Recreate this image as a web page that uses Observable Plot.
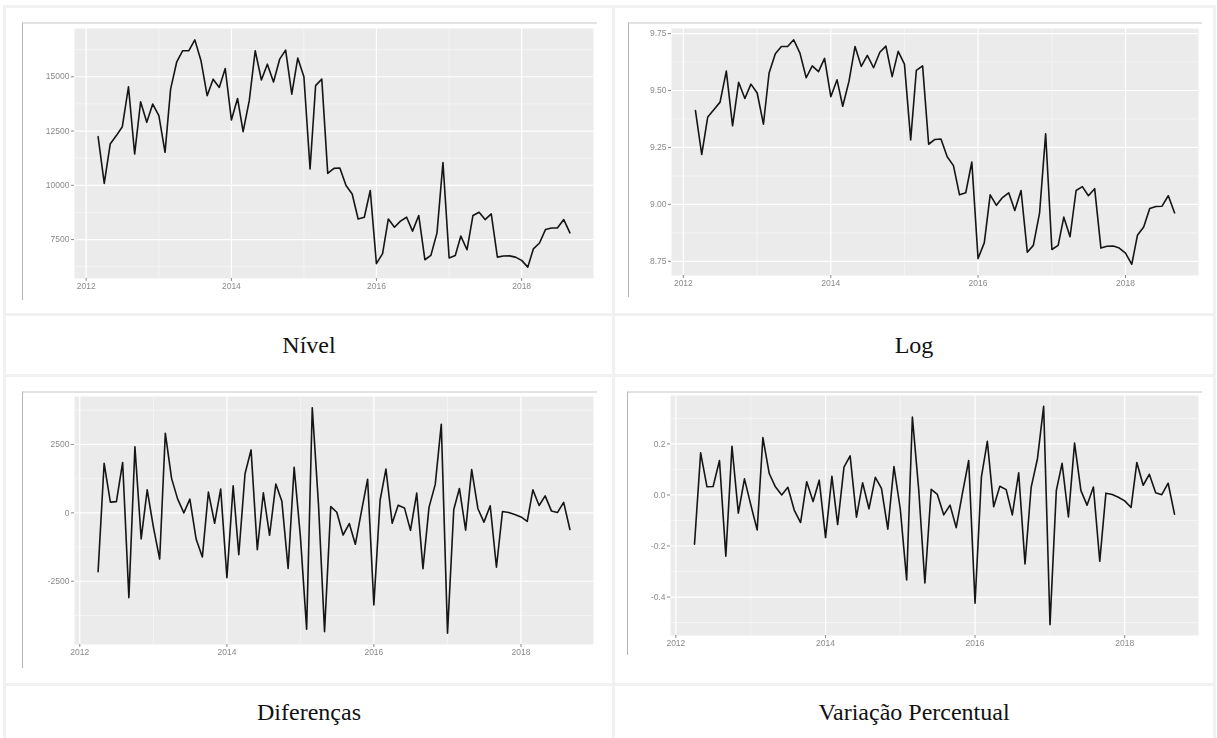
<!DOCTYPE html>
<html>
<head>
<meta charset="utf-8">
<script src="https://cdn.jsdelivr.net/npm/d3@7"></script>
<script src="https://cdn.jsdelivr.net/npm/@observablehq/plot@0.6"></script>
<style>
  html, body { margin: 0; padding: 0; background: #fff; }
  body { width: 1217px; height: 738px; overflow: hidden; position: relative; }
  .rule { position: absolute; background: #f1f1f1; }
  .img { position: absolute; background: #fff; box-sizing: border-box;
         border-top: 2px solid #e2e2e2; border-left: 1px solid #b3b3b3; }
  .img svg { display: block; filter: blur(0.35px); }
  .cap { position: absolute; text-align: center; color: #111;
         font-family: "Liberation Serif", "Times New Roman", serif; font-size: 24px; }
</style>
</head>
<body>
<script>
// ---- data (monthly, Mar 2012 – Sep 2018) ----
const months = [
  "2012-03","2012-04","2012-05","2012-06","2012-07","2012-08","2012-09","2012-10","2012-11","2012-12",
  "2013-01","2013-02","2013-03","2013-04","2013-05","2013-06","2013-07","2013-08","2013-09","2013-10","2013-11","2013-12",
  "2014-01","2014-02","2014-03","2014-04","2014-05","2014-06","2014-07","2014-08","2014-09","2014-10","2014-11","2014-12",
  "2015-01","2015-02","2015-03","2015-04","2015-05","2015-06","2015-07","2015-08","2015-09","2015-10","2015-11","2015-12",
  "2016-01","2016-02","2016-03","2016-04","2016-05","2016-06","2016-07","2016-08","2016-09","2016-10","2016-11","2016-12",
  "2017-01","2017-02","2017-03","2017-04","2017-05","2017-06","2017-07","2017-08","2017-09","2017-10","2017-11","2017-12",
  "2018-01","2018-02","2018-03","2018-04","2018-05","2018-06","2018-07","2018-08","2018-09"
];

const nivel = [
  12240, 10090, 11900, 12290, 12700, 14540, 11440, 13850, 12900, 13740,
  13210, 11520, 14430, 15690, 16200, 16200, 16700, 15740, 14130, 14890,
  14510, 15380, 13010, 14000, 12470, 13900, 16200, 14850, 15580, 14760,
  15810, 16230, 14200, 15860, 15000, 10750, 14590, 14890, 10550, 10780,
  10800, 9990, 9600, 8450, 8530, 9760, 6390, 6850, 8450, 8070,
  8350, 8530, 7890, 8610, 6570, 6770, 7810, 11050, 6650, 6770,
  7660, 7030, 8610, 8760, 8420, 8680, 6690, 6740, 6750, 6690,
  6540, 6230, 7070, 7340, 7960, 8030, 8040, 8420, 7810
];

const logNivel = [
  9.412, 9.219, 9.384, 9.417, 9.449, 9.585, 9.345, 9.536, 9.465, 9.528,
  9.489, 9.352, 9.577, 9.661, 9.693, 9.693, 9.723, 9.664, 9.556, 9.608,
  9.583, 9.641, 9.473, 9.547, 9.431, 9.540, 9.693, 9.606, 9.654, 9.600,
  9.668, 9.695, 9.561, 9.672, 9.616, 9.283, 9.588, 9.608, 9.264, 9.285,
  9.287, 9.209, 9.170, 9.042, 9.051, 9.186, 8.762, 8.832, 9.042, 8.996,
  9.030, 9.051, 8.973, 9.061, 8.790, 8.820, 8.963, 9.310, 8.802, 8.820,
  8.944, 8.858, 9.061, 9.078, 9.038, 9.069, 8.808, 8.816, 8.817, 8.808,
  8.786, 8.737, 8.864, 8.901, 8.982, 8.991, 8.992, 9.038, 8.963
];

const diferencas = [
  -2150, 1810, 390, 410, 1840, -3100, 2410, -950, 840, -530,
  -1690, 2910, 1260, 510, 0, 500, -960, -1610, 760, -380,
  870, -2370, 990, -1530, 1430, 2300, -1350, 730, -820, 1050,
  420, -2030, 1660, -860, -4250, 3840, 300, -4340, 230, 20,
  -810, -390, -1150, 80, 1230, -3370, 460, 1600, -380, 280,
  180, -640, 720, -2040, 200, 1040, 3240, -4400, 120, 890,
  -630, 1580, 150, -340, 260, -1990, 50, 10, -60, -150,
  -310, 840, 270, 620, 70, 10, 380, -610
];

const variacao = [
  -0.193, 0.165, 0.032, 0.033, 0.135, -0.240, 0.191, -0.071, 0.063, -0.039,
  -0.137, 0.225, 0.084, 0.032, 0.000, 0.030, -0.059, -0.108, 0.052, -0.026,
  0.058, -0.167, 0.073, -0.116, 0.109, 0.153, -0.087, 0.048, -0.054, 0.069,
  0.026, -0.134, 0.111, -0.056, -0.333, 0.305, 0.020, -0.345, 0.022, 0.002,
  -0.078, -0.040, -0.128, 0.009, 0.135, -0.424, 0.070, 0.210, -0.046, 0.034,
  0.021, -0.078, 0.087, -0.270, 0.030, 0.143, 0.347, -0.508, 0.018, 0.124,
  -0.086, 0.203, 0.017, -0.040, 0.031, -0.260, 0.007, 0.002, -0.009, -0.023,
  -0.049, 0.127, 0.038, 0.081, 0.009, 0.001, 0.046, -0.075
];

const captions = ["Nível", "Log", "Diferenças", "Variação Percentual"];
const yearTicks = ["2012", "2014", "2016", "2018"];
const yearMinor = ["2013", "2015", "2017"];
const nivelTicks = [7500, 10000, 12500, 15000];
const nivelMinor = [6250, 8750, 11250, 13750, 16250];
const logTicks = [8.75, 9.00, 9.25, 9.50, 9.75];
const logMinor = [8.625, 8.875, 9.125, 9.375, 9.625];
const difTicks = [-2500, 0, 2500];
const difMinor = [-3750, -1250, 1250, 3750];
const varTicks = [-0.4, -0.2, 0.0, 0.2];
const varMinor = [-0.5, -0.3, -0.1, 0.1, 0.3];

// ---- helpers ----
const parseMonth = d3.utcParse("%Y-%m");
const parseYear = d3.utcParse("%Y");

function expand([a, b]) {           // ggplot-style 5% expansion
  const pad = (b - a) * 0.05;
  return [a - pad, b + pad];
}

function panel(cfg) {
  const data = cfg.values.map((v, i) => ({date: parseMonth(cfg.dates[i]), value: v}));
  const xd = d3.extent(data, d => d.date).map(Number);
  const xDomain = expand(xd).map(t => new Date(t));
  const yDomain = expand(d3.extent(data, d => d.value));
  const axisStyle = {fontSize: 8.5, color: "#8a8a8a", label: null};
  return Plot.plot({
    width: cfg.width, height: cfg.height,
    marginLeft: cfg.m[0], marginRight: cfg.m[1], marginTop: cfg.m[2], marginBottom: cfg.m[3],
    style: {background: "transparent", fontFamily: "'Liberation Sans', Arial, sans-serif", overflow: "visible"},
    x: {type: "utc", domain: xDomain},
    y: {domain: yDomain},
    marks: [
      Plot.frame({fill: "#ebebeb", stroke: null}),
      Plot.gridX(yearMinor.map(parseYear), {stroke: "#fafafa", strokeOpacity: 1, strokeWidth: 0.6}),
      Plot.gridY(cfg.yMinor, {stroke: "#fafafa", strokeOpacity: 1, strokeWidth: 0.6}),
      Plot.gridX(yearTicks.map(parseYear), {stroke: "#fff", strokeOpacity: 1, strokeWidth: 1.2}),
      Plot.gridY(cfg.yTicks, {stroke: "#fff", strokeOpacity: 1, strokeWidth: 1.2}),
      Plot.axisX(yearTicks.map(parseYear), {...axisStyle, tickSize: 3, tickPadding: 1, tickFormat: "%Y"}),
      Plot.axisY(cfg.yTicks, {...axisStyle, tickSize: 3, tickPadding: 2, tickFormat: cfg.fmt}),
      Plot.lineY(data, {x: "date", y: "value", stroke: "#151515", strokeWidth: 1.6, strokeLinejoin: "round"})
    ]
  });
}

function addDiv(cls, css, content) {
  const d = document.createElement("div");
  d.className = cls;
  Object.assign(d.style, css);
  if (content instanceof Node) d.appendChild(content);
  else if (content != null) d.textContent = content;
  document.body.appendChild(d);
  return d;
}

// ---- table rules ----
[[3, 5, 3, 733], [612, 5, 3, 733], [1213, 5, 3, 733]].forEach(([x, y, w, h]) =>
  addDiv("rule", {left: x + "px", top: y + "px", width: w + "px", height: h + "px"}));
[5, 313, 374, 683].forEach(y =>
  addDiv("rule", {left: "3px", top: y + "px", width: "1213px", height: "3px"}));

// ---- panels ----
const fmtInt = d => String(d);
const fmt2 = d => d.toFixed(2);
const fmt1 = d => d.toFixed(1);

const panels = [
  {box: [22, 22, 575, 278], width: 574, height: 276, m: [51, 4, 4, 22],
   dates: months, values: nivel, yTicks: nivelTicks, yMinor: nivelMinor, fmt: fmtInt},
  {box: [628, 22, 574, 275], width: 573, height: 273, m: [42, 4, 4, 22],
   dates: months, values: logNivel, yTicks: logTicks, yMinor: logMinor, fmt: fmt2},
  {box: [22, 391, 575, 277], width: 574, height: 275, m: [51, 4, 3, 24],
   dates: months.slice(1), values: diferencas, yTicks: difTicks, yMinor: difMinor, fmt: fmtInt},
  {box: [627, 391, 575, 264], width: 574, height: 262, m: [42, 4, 2, 20],
   dates: months.slice(1), values: variacao, yTicks: varTicks, yMinor: varMinor, fmt: fmt1}
];

panels.forEach(p => {
  const [x, y, w, h] = p.box;
  addDiv("img", {left: x + "px", top: y + "px", width: w + "px", height: h + "px"}, panel(p));
});

// ---- captions ----
[[6, 316, 606, 58], [615, 316, 598, 58], [6, 686, 606, 52], [615, 686, 598, 52]].forEach(([x, y, w, h], i) =>
  addDiv("cap", {left: x + "px", top: y + "px", width: w + "px", height: h + "px", lineHeight: h + "px"}, captions[i]));
</script>
</body>
</html>
